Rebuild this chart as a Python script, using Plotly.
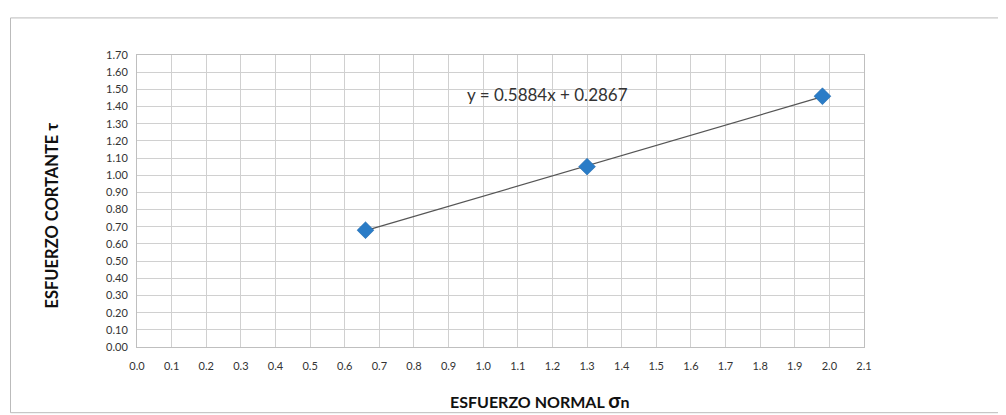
import numpy as np
import plotly.graph_objects as go

# Data
normal_stress = [0.66, 1.30, 1.98]      # σn
shear_stress = [0.68, 1.05, 1.46]       # τ
equation_label = "y = 0.5884x + 0.2867"
x_title = "<b>ESFUERZO NORMAL </b><span style='font-size:20px'><b>σ</b></span><b>n</b>"
y_title = "<b>ESFUERZO CORTANTE τ</b>"
x_ticks = [round(0.1 * i, 1) for i in range(22)]
y_ticks = [round(0.1 * i, 2) for i in range(18)]

slope, intercept = np.polyfit(normal_stress, shear_stress, 1)
trend_x = [min(normal_stress), max(normal_stress)]
trend_y = [slope * v + intercept for v in trend_x]

FONT = "Lato, Open Sans, sans-serif"

fig = go.Figure()
fig.add_trace(go.Scatter(x=trend_x, y=trend_y, mode="lines",
                         line=dict(color="#555555", width=1.3),
                         hoverinfo="skip", showlegend=False))
fig.add_trace(go.Scatter(x=normal_stress, y=shear_stress, mode="markers",
                         marker=dict(symbol="diamond", size=13, color="#2a7cc7",
                                     line=dict(color="#1d65a8", width=0.5)),
                         showlegend=False))

fig.add_annotation(x=1.185, y=1.47, xref="x", yref="y", text=equation_label,
                   showarrow=False, font=dict(family=FONT, size=17, color="#333333"))

# axis titles
fig.add_annotation(x=0.555, y=-0.18, xref="paper", yref="paper", text=x_title,
                   showarrow=False, yanchor="middle", xanchor="center",
                   font=dict(family=FONT, size=16, color="#111111"))
fig.add_annotation(x=-0.117, y=0.45, xref="paper", yref="paper", text=y_title,
                   showarrow=False, textangle=-90, xanchor="center", yanchor="middle",
                   font=dict(family=FONT, size=16.5, color="#111111"))

fig.add_shape(type="rect", xref="paper", yref="paper", x0=-0.174, x1=1.19, y0=-0.225, y1=1.127,
              line=dict(color="#bbbbbb", width=1), layer="below")

axis_font = dict(family=FONT, size=11, color="#333333")
fig.update_xaxes(range=[0, 2.1], tickvals=x_ticks, ticktext=[f"{v:.1f}" for v in x_ticks],
                 showgrid=True, gridcolor="#d0d0d0", gridwidth=1,
                 showline=True, linecolor="#bfbfbf", linewidth=1, mirror=True,
                 zeroline=False, tickfont=axis_font, ticks="", ticklabelstandoff=9)
fig.update_yaxes(range=[0, 1.7], tickvals=y_ticks, ticktext=[f"{v:.2f}" for v in y_ticks],
                 showgrid=True, gridcolor="#d0d0d0", gridwidth=1,
                 showline=True, linecolor="#bfbfbf", linewidth=1, mirror=True,
                 zeroline=False, tickfont=axis_font, ticks="", ticklabelstandoff=6)

fig.update_layout(width=998, height=407,
                  margin=dict(l=129, r=142, t=47, b=68, autoexpand=False),
                  paper_bgcolor="white", plot_bgcolor="white")

fig.write_html("out.html")
